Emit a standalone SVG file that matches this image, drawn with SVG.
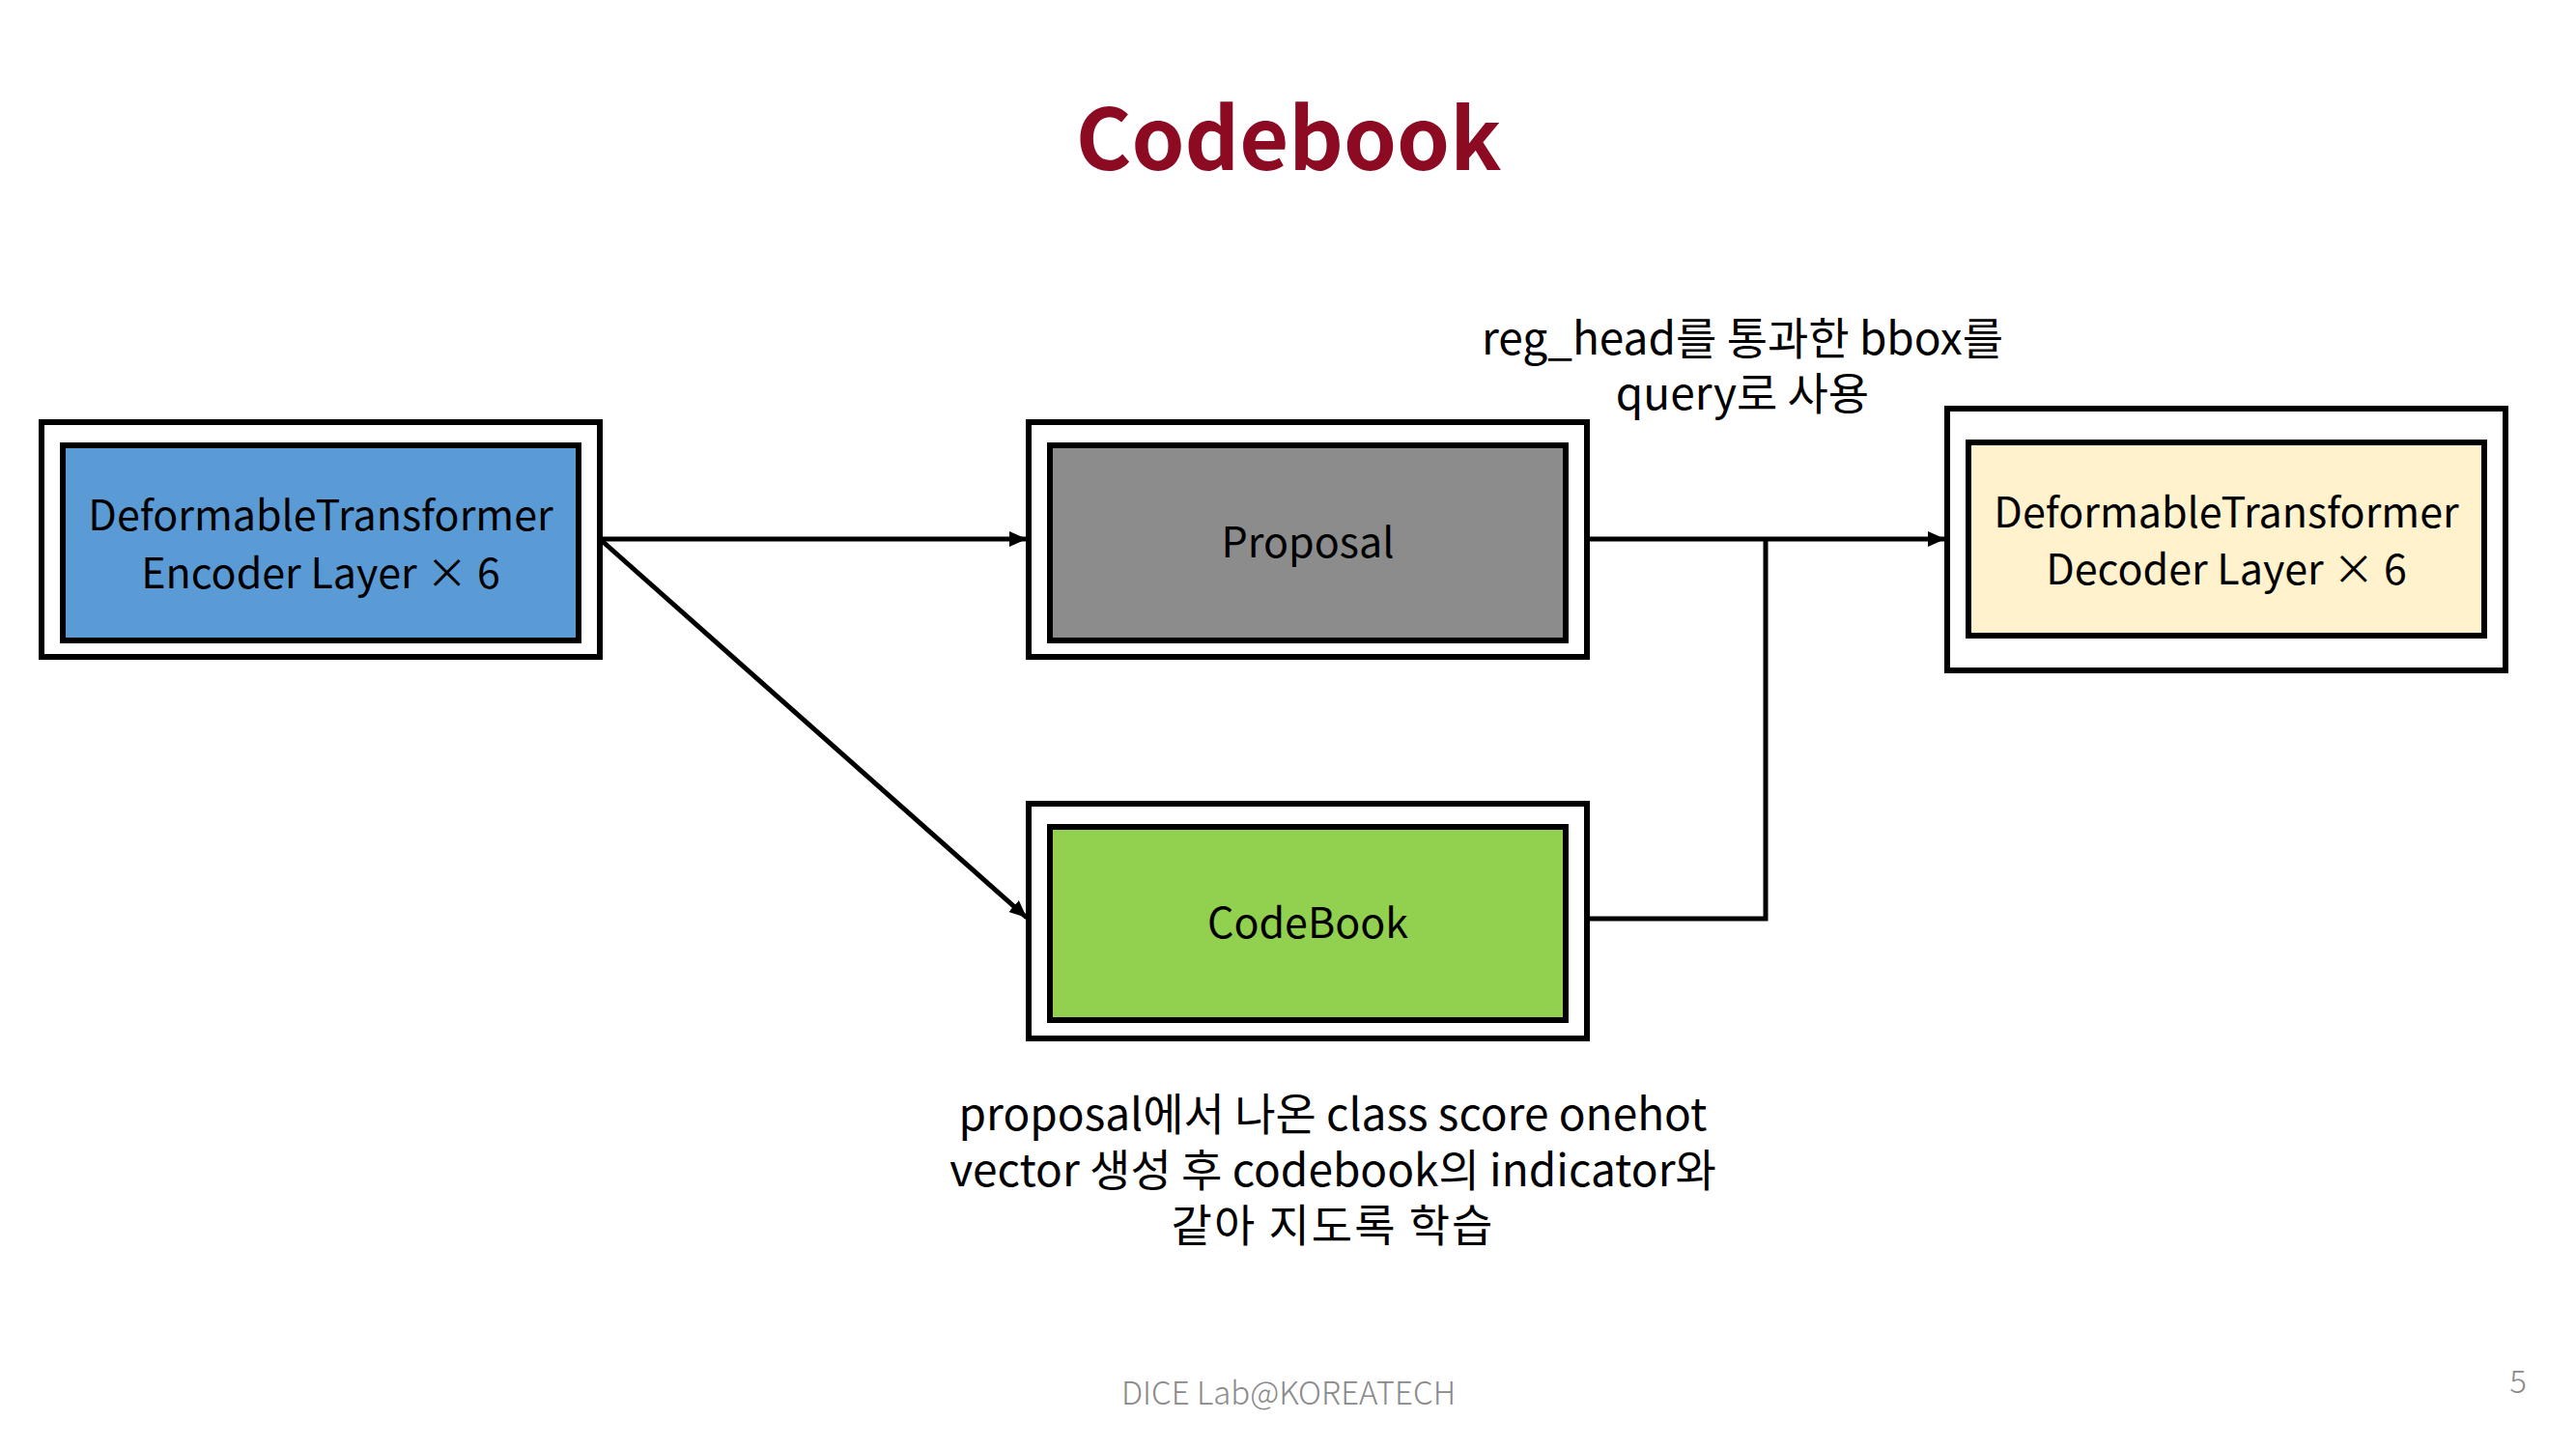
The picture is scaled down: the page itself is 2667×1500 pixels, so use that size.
<svg xmlns="http://www.w3.org/2000/svg" width="2667" height="1500" viewBox="0 0 2667 1500">
  <style>
    .outer { fill: #ffffff; stroke: #000000; stroke-width: 6; }
    .inner { stroke: #000000; stroke-width: 6; }
    .label { font-family: "Noto Sans CJK KR", "Noto Sans", sans-serif; font-size: 43px; fill: #000000; text-anchor: middle; }
    .note { font-family: "Noto Sans CJK KR", "Noto Sans", sans-serif; font-size: 46px; fill: #000000; text-anchor: middle; }
    .conn { fill: none; stroke: #000000; stroke-width: 5; }
    .title { font-family: "Noto Sans CJK KR", "Noto Sans", sans-serif; font-weight: bold; font-size: 88px; fill: #8C0A22; text-anchor: middle; }
    .footer { font-family: "Noto Sans CJK KR", "Noto Sans", sans-serif; font-weight: 300; font-size: 33px; fill: #8A8A8A; text-anchor: middle; }
  </style>
  <defs>
    <marker id="arrow" markerUnits="userSpaceOnUse" markerWidth="20" markerHeight="16" refX="18" refY="8" orient="auto">
      <path d="M0,0 L18,8 L0,16 Z" fill="#000000"/>
    </marker>
  </defs>

  <rect width="2667" height="1500" fill="#ffffff"/>

  <text class="title" x="1334" y="176">Codebook</text>

  <g id="encoder">
    <rect class="outer" x="43" y="437" width="578" height="243"/>
    <rect class="inner" x="65" y="461" width="534" height="202" fill="#5B9BD5"/>
    <text class="label" x="332" y="549">DeformableTransformer</text>
    <text class="label" x="332" y="609">Encoder Layer × 6</text>
  </g>

  <g id="proposal">
    <rect class="outer" x="1065" y="437" width="578" height="243"/>
    <rect class="inner" x="1087" y="461" width="534" height="202" fill="#8C8C8C"/>
    <text class="label" x="1354" y="577">Proposal</text>
  </g>

  <g id="codebook">
    <rect class="outer" x="1065" y="832" width="578" height="243"/>
    <rect class="inner" x="1087" y="856" width="534" height="200" fill="#92D050"/>
    <text class="label" x="1354" y="971">CodeBook</text>
  </g>

  <g id="decoder">
    <rect class="outer" x="2016" y="423" width="578" height="271"/>
    <rect class="inner" x="2038" y="458" width="534" height="200" fill="#FFF2CC"/>
    <text class="label" x="2305" y="546">DeformableTransformer</text>
    <text class="label" x="2305" y="605">Decoder Layer × 6</text>
  </g>

  <g id="connectors">
    <line class="conn" x1="621" y1="558" x2="1063" y2="558" marker-end="url(#arrow)"/>
    <line class="conn" x1="621" y1="558" x2="1063" y2="950" marker-end="url(#arrow)"/>
    <line class="conn" x1="1643" y1="558" x2="2014" y2="558" marker-end="url(#arrow)"/>
    <polyline class="conn" points="1643,951 1828,951 1828,558"/>
  </g>

  <g id="notes">
    <text class="note" x="1804" y="367">reg_head를 통과한 bbox를</text>
    <text class="note" x="1804" y="424">query로 사용</text>
    <text class="note" x="1380" y="1170">proposal에서 나온 class score onehot</text>
    <text class="note" x="1380" y="1228">vector 생성 후 codebook의 indicator와</text>
    <text class="note" x="1380" y="1285" font-size="50" letter-spacing="2">같아 지도록 학습</text>
  </g>

  <text class="footer" x="1334" y="1454">DICE Lab@KOREATECH</text>
  <text class="footer" x="2607" y="1442">5</text>
</svg>
